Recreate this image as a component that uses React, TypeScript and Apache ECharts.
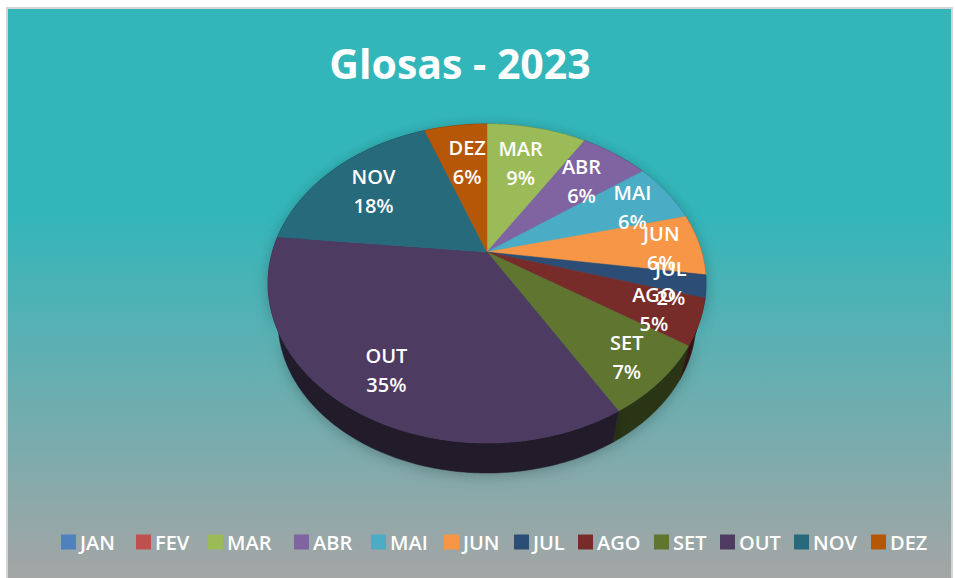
import React, { useEffect, useRef } from "react";
import * as echarts from "echarts";

const months = ["JAN", "FEV", "MAR", "ABR", "MAI", "JUN", "JUL", "AGO", "SET", "OUT", "NOV", "DEZ"];
const shares = [0, 0, 8.9, 6.1, 6.1, 6.2, 2.3, 4.6, 7.3, 35.1, 17.8, 5.6];
const legendColors = ["#4F81BD", "#C0504D", "#9BBB59", "#8064A2", "#4BACC6", "#F79646", "#2C4D75", "#772C2A", "#5F7530", "#4D3B62", "#276A7C", "#B65708"];
// Layout: radial position of each label (fraction of the pie's radius) and a small sideways nudge.
const labelRadii = [0, 0, 0.7, 0.72, 0.78, 0.82, 0.85, 0.8, 0.82, 0.78, 0.735, 0.69];
const labelNudgeX = [0, 0, -3, -1, 3, 0, -1, 0, 2, 3, 1, 3];
// Layout: left edge of each legend entry.
const legendLefts = [56, 131, 203, 289, 366, 439, 509, 573, 649, 715, 789, 866];
const total = shares.reduce((a, b) => a + b, 0);

// Perspective projection of the pie's unit disc on the page.
const APEX_X = 487;
const APEX_Y = 252;
const SCALE_X = 214.6;
const SCALE_Y = 153.3;
const PERSPECTIVE = 0.1975;
const DEPTH_SCALE = 0.955;
const DEPTH_SHIFT = 38.6;
const FONT = '"Open Sans"';

function project(angle: number, r: number): [number, number] {
  const u = r * Math.sin(angle);
  const v = -r * Math.cos(angle);
  const w = 1 - PERSPECTIVE * v;
  return [(SCALE_X * u) / w, (SCALE_Y * v) / w];
}

function darken(hex: string, f: number) {
  const n = parseInt(hex.slice(1), 16);
  const c = [(n >> 16) & 255, (n >> 8) & 255, n & 255].map((x) => Math.round(x * f));
  return `rgb(${c[0]},${c[1]},${c[2]})`;
}

function renderSlice(index: number) {
  return (_params: any, api: any) => {
    const value = api.value(0);
    if (!value) return { type: "group", children: [] };
    const before = shares.slice(0, index).reduce((a, b) => a + b, 0);
    const start = (before / total) * Math.PI * 2;
    const end = ((before + value) / total) * Math.PI * 2;
    const steps = Math.max(2, Math.ceil(((end - start) * 180) / Math.PI));
    const rim: [number, number][] = [];
    for (let i = 0; i <= steps; i++) {
      rim.push(project(start + ((end - start) * i) / steps, 1));
    }
    const topPts = [[APEX_X, APEX_Y], ...rim.map(([x, y]) => [APEX_X + x, APEX_Y + y])];
    const lowerPts = rim
      .slice()
      .reverse()
      .map(([x, y]) => [APEX_X + x * DEPTH_SCALE, APEX_Y + y * DEPTH_SCALE + DEPTH_SHIFT]);
    const wallPts = [...rim.map(([x, y]) => [APEX_X + x, APEX_Y + y]), ...lowerPts];
    const color = legendColors[index];
    const mid = (start + end) / 2;
    const [lx, ly] = project(mid, labelRadii[index]);
    return {
      type: "group",
      children: [
        {
          type: "polygon",
          z2: 1,
          shape: { points: wallPts },
          style: {
            fill: darken(color, 0.45),
            stroke: darken(color, 0.45),
            lineWidth: 0.5,
            shadowBlur: 14,
            shadowColor: "rgba(0,0,0,0.25)",
            shadowOffsetY: 2,
          },
        },
        {
          type: "polygon",
          z2: 10,
          shape: { points: topPts },
          style: { fill: color, stroke: color, lineWidth: 0.5 },
        },
        {
          type: "text",
          z2: 20,
          x: APEX_X + lx + labelNudgeX[index],
          y: APEX_Y + ly + 2,
          style: {
            text: `${months[index]}\n${Math.round((value / total) * 100)}%`,
            fill: "#FFFFFF",
            font: `600 20px ${FONT}`,
            lineHeight: 29,
            align: "center",
            verticalAlign: "middle",
          },
        },
      ],
    };
  };
}

export default function App() {
  const ref = useRef<HTMLDivElement>(null);
  useEffect(() => {
    const chart = echarts.init(ref.current!, null, { renderer: "svg" });
    chart.setOption({
      animation: false,
      graphic: [
        {
          type: "rect",
          z: 0,
          silent: true,
          shape: { x: 7, y: 8, width: 945, height: 572 },
          style: {
            stroke: "#D4D4D4",
            lineWidth: 2,
            fill: {
              type: "linear",
              x: 0,
              y: 0,
              x2: 0,
              y2: 1,
              colorStops: [
                { offset: 0, color: "#33B6BA" },
                { offset: 0.36, color: "#33B6BA" },
                { offset: 1, color: "#A5A5A5" },
              ],
            },
          },
        },
      ],
      title: {
        text: "Glosas - 2023",
        left: 455,
        top: 37,
        textAlign: "center",
        textStyle: { color: "#FFFFFF", fontFamily: "Open Sans", fontWeight: 700, fontSize: 41 },
      },
      legend: months.map((m, i) => ({
        data: [m],
        left: legendLefts[i],
        top: 527,
        itemWidth: 15,
        itemHeight: 15,
        selectedMode: false,
        icon: "rect",
        textStyle: { color: "#FFFFFF", fontFamily: "Open Sans", fontWeight: 600, fontSize: 20, padding: [0, 0, 0, -1] },
      })),
      series: months.map((name, i) => ({
        type: "custom",
        name,
        coordinateSystem: "none",
        silent: true,
        itemStyle: { color: legendColors[i] },
        data: [[shares[i]]],
        renderItem: renderSlice(i),
      })),
    });
    return () => chart.dispose();
  }, []);
  return <div ref={ref} style={{ position: "absolute", left: 0, top: 0, width: 955, height: 578, background: "#FFFFFF" }} />;
}
